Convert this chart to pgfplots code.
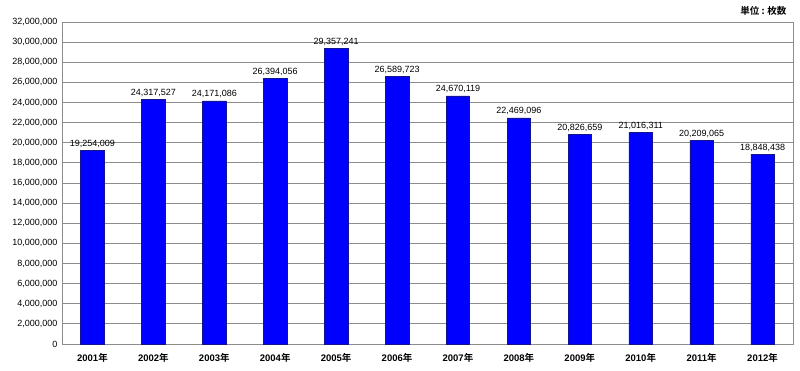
\documentclass[border=0pt]{standalone}
\usepackage{fontspec}
\setmainfont{Liberation Sans}
\newfontfamily\cjk{Noto Sans CJK JP}[BoldFont={* Bold}]
\usepackage{pgfplots}
\usepackage{pgfplotstable}
\pgfplotsset{compat=1.18}
\definecolor{barblue}{RGB}{0,0,255}
\definecolor{baredge}{RGB}{20,20,140}
\definecolor{gridgray}{RGB}{140,140,140}
\pgfplotstableread{
x y label
0 19254009 19,254,009
1 24317527 24,317,527
2 24171086 24,171,086
3 26394056 26,394,056
4 29357241 29,357,241
5 26589723 26,589,723
6 24670119 24,670,119
7 22469096 22,469,096
8 20826659 20,826,659
9 21016311 21,016,311
10 20209065 20,209,065
11 18848438 18,848,438
}\datatable
\newcommand{\nen}{{\cjk 年}}
\begin{document}
\begin{tikzpicture}
\begin{axis}[
  scale only axis,
  width=731pt, height=322pt,
  xmin=-0.5, xmax=11.5,
  ymin=0, ymax=32000000,
  ytick distance=2000000,
  scaled y ticks=false,
  yticklabel style={/pgf/number format/fixed,/pgf/number format/precision=0,/pgf/number format/1000 sep={,}},
  /pgf/number format/assume math mode=true,
  tick label style={font=\fontsize{9}{10}\selectfont},
  xtick={0,...,11},
  xticklabels={2001\nen,2002\nen,2003\nen,2004\nen,2005\nen,2006\nen,2007\nen,2008\nen,2009\nen,2010\nen,2011\nen,2012\nen},
  xticklabel style={font=\fontsize{9.5}{10}\selectfont\bfseries, yshift=-1.5pt},
  major x tick style={draw=none},
  extra x ticks={0.5,1.5,...,10.5},
  extra x tick labels={},
  extra x tick style={tick align=inside, major tick length=3pt, tick style={draw=gridgray}, grid=none},
  ymajorgrids,
  grid style={draw=gridgray, line width=0.8pt},
  axis line style={draw=gridgray, line width=0.8pt},
  y tick style={draw=none},
  yticklabel style={xshift=-1pt},
  ybar,
  bar width=23.5pt,
  nodes near coords,
  point meta=explicit symbolic,
  every node near coord/.append style={font=\fontsize{9}{10}\selectfont, yshift=-0.5pt},
]
\addplot[fill=barblue, draw=baredge, line width=0.5pt] table[x=x, y=y, meta=label] {\datatable};
\end{axis}
\node[anchor=north east, font=\fontsize{9.5}{10}\selectfont\bfseries\cjk] at ([shift={(-3pt,19pt)}]current axis.north east) {単位 : 枚数};
\path ([shift={(-62pt,-26pt)}]current axis.south west) rectangle ++(800pt,370pt);
\end{tikzpicture}
\end{document}
